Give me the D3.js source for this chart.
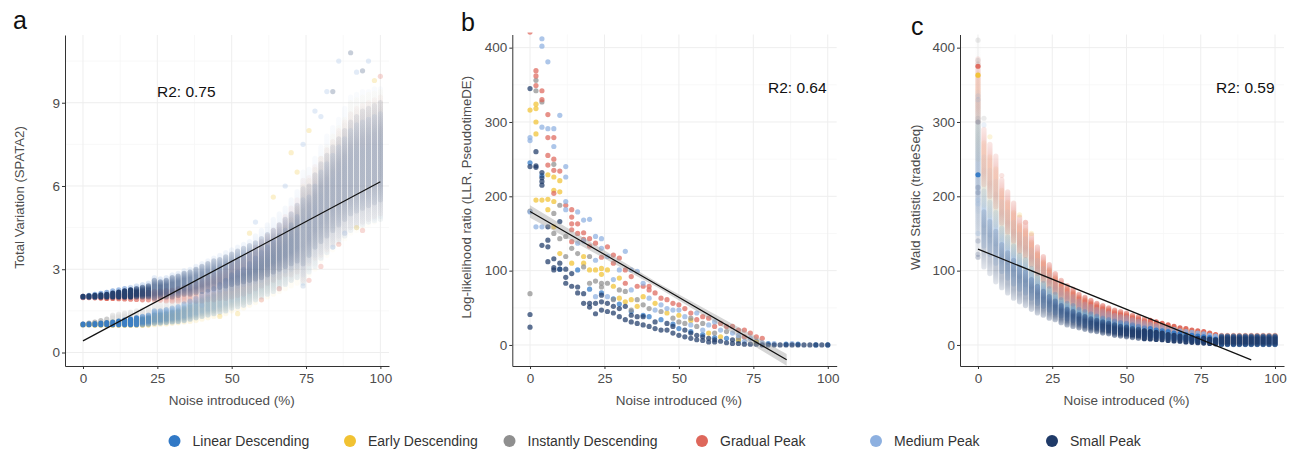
<!DOCTYPE html>
<html><head><meta charset="utf-8">
<script src="https://cdn.jsdelivr.net/npm/d3@7/dist/d3.min.js"></script>
<style>body{margin:0;background:#fff;} svg{display:block;font-family:"Liberation Sans",Arial,Helvetica,sans-serif;}</style>
</head><body><svg id="chart" width="1295" height="451"></svg>
<script>
// ---------------- DATA ----------------
const categories = ["Linear Descending","Early Descending","Instantly Descending","Gradual Peak","Medium Peak","Small Peak"];
const colors = ["#3179c6","#f1c232","#8f8f8f","#de675b","#8db0e0","#1f3a68"];
const noise = [0,2,4,6,8,10,12,14,16,18,20,22,24,26,28,30,32,34,36,38,40,42,44,46,48,50,52,54,56,58,60,62,64,66,68,70,72,74,76,78,80,82,84,86,88,90,92,94,96,98,100];
const xTicks = [0,25,50,75,100];
const xMinor = [12.5,37.5,62.5,87.5];
const aYTicks = [0,3,6,9];
const aYMinor = [1.5,4.5,7.5,10.5];
const bcYTicks = [0,100,200,300,400];
const bcYMinor = [50,150,250,350];
const r2Labels = ["R2: 0.75","R2: 0.64","R2: 0.59"];

// Panel a: Total Variation (SPATA2) — per-noise ranges of replicate values
const aLinearLo = [1.0,1.0,1.0,1.0,1.0,1.0,1.0,1.0,1.0,1.0,1.0,1.02,1.05,1.06,1.08,1.1,1.12,1.15,1.2,1.25,1.3,1.35,1.4,1.45,1.5,1.6,1.65,1.7,1.8,1.9,2.0,2.1,2.2,2.3,2.45,2.6,2.7,2.5,2.9,3.1,3.4,3.6,3.8,4.0,4.2,4.4,4.5,4.6,4.7,4.75,4.8];
const aLinearHi = [1.02,1.03,1.04,1.06,1.08,1.1,1.13,1.17,1.2,1.25,1.3,1.35,1.5,1.5,1.55,1.6,1.65,1.75,1.85,1.95,2.1,2.2,2.3,2.45,2.6,2.8,2.9,3.0,3.2,3.4,3.6,3.8,4.0,4.2,4.4,4.6,4.9,5.5,5.6,6.0,6.5,6.8,7.1,7.4,7.7,8.0,8.2,8.3,8.4,8.5,8.6];
const aEarlyLo = [1.0,1.0,0.99,0.99,0.98,0.98,0.98,0.98,0.98,0.98,0.98,0.99,1.0,1.02,1.03,1.05,1.07,1.1,1.12,1.15,1.2,1.25,1.3,1.35,1.4,1.5,1.55,1.6,1.7,1.8,1.9,2.0,2.1,2.2,2.3,2.4,2.5,2.4,2.8,3.0,3.3,3.5,3.7,3.9,4.1,4.3,4.4,4.5,4.6,4.7,4.8];
const aEarlyHi = [1.0,1.02,1.03,1.05,1.07,1.1,1.12,1.14,1.16,1.18,1.2,1.25,1.35,1.38,1.4,1.45,1.5,1.6,1.7,1.8,1.9,2.0,2.1,2.25,2.4,2.6,2.7,2.8,3.0,3.2,3.4,3.6,3.9,4.2,4.5,4.8,5.2,6.0,6.2,6.6,7.0,7.4,7.8,8.1,8.4,9.0,9.1,9.2,9.3,9.35,9.4];
const aInstantLo = [1.0,1.01,1.02,1.03,1.04,1.05,1.06,1.07,1.08,1.09,1.1,1.1,1.1,1.15,1.18,1.2,1.22,1.25,1.3,1.35,1.4,1.45,1.5,1.55,1.6,1.7,1.75,1.8,1.9,2.0,2.1,2.2,2.3,2.4,2.5,2.6,2.7,2.5,3.0,3.2,3.4,3.6,3.8,4.0,4.2,4.4,4.5,4.6,4.7,4.8,4.9];
const aInstantHi = [1.02,1.06,1.1,1.15,1.2,1.35,1.38,1.42,1.46,1.5,1.55,1.6,1.75,1.75,1.8,1.9,2.0,2.1,2.2,2.35,2.5,2.6,2.7,2.8,2.95,3.1,3.2,3.3,3.5,3.65,3.8,4.0,4.2,4.4,4.7,5.0,5.3,6.2,6.2,6.6,7.0,7.3,7.6,7.9,8.2,8.6,8.7,8.8,8.9,8.95,9.0];
const aGradualLo = [1.98,1.98,1.97,1.96,1.95,1.95,1.94,1.93,1.92,1.91,1.9,1.9,1.88,1.88,1.86,1.85,1.85,1.85,1.85,1.85,1.85,1.9,1.9,1.95,1.95,2.0,2.05,2.1,2.2,2.3,2.4,2.5,2.6,2.7,2.8,2.8,2.9,2.6,3.2,3.4,3.5,3.7,3.9,4.1,4.3,4.5,4.6,4.7,4.8,4.9,5.0];
const aGradualHi = [2.02,2.03,2.04,2.05,2.06,2.08,2.1,2.11,2.12,2.13,2.15,2.17,2.2,2.22,2.24,2.25,2.3,2.35,2.4,2.5,2.6,2.7,2.8,2.9,3.0,3.2,3.3,3.4,3.6,3.8,4.0,4.2,4.4,4.6,4.9,5.2,5.5,6.2,6.3,6.7,7.0,7.3,7.6,8.0,8.3,8.6,8.8,8.9,9.0,9.1,9.2];
const aMediumLo = [2.0,2.0,2.0,2.02,2.02,2.03,2.04,2.05,2.05,2.05,2.05,2.05,2.0,2.08,2.1,2.1,2.12,2.15,2.15,2.2,2.2,2.2,2.25,2.25,2.3,2.3,2.4,2.45,2.5,2.55,2.6,2.7,2.8,2.9,2.95,3.0,3.1,2.8,3.3,3.5,3.6,3.8,4.0,4.2,4.4,4.5,4.6,4.7,4.8,4.85,4.9];
const aMediumHi = [2.02,2.06,2.1,2.13,2.17,2.22,2.26,2.3,2.35,2.4,2.45,2.5,2.7,2.65,2.7,2.8,2.85,2.95,3.0,3.1,3.2,3.3,3.4,3.5,3.6,3.7,3.8,3.9,4.0,4.2,4.4,4.6,4.8,5.0,5.2,5.5,5.8,6.5,6.6,7.0,7.4,7.8,8.1,8.4,8.8,9.2,9.3,9.4,9.4,9.5,9.5];
const aSmallLo = [2.0,2.0,2.0,2.0,2.0,2.0,2.0,2.0,2.0,2.0,2.0,2.0,1.95,2.0,2.0,2.0,2.05,2.1,2.1,2.15,2.2,2.25,2.3,2.35,2.4,2.45,2.5,2.55,2.6,2.65,2.7,2.8,2.9,3.0,3.1,3.2,3.3,3.2,3.5,3.8,4.0,4.2,4.4,4.6,4.8,5.0,5.1,5.2,5.3,5.4,5.5];
const aSmallHi = [2.02,2.04,2.06,2.08,2.1,2.14,2.18,2.22,2.26,2.3,2.35,2.4,2.6,2.55,2.6,2.7,2.75,2.85,2.9,3.0,3.1,3.2,3.3,3.35,3.45,3.55,3.65,3.75,3.85,3.95,4.1,4.25,4.4,4.6,4.8,5.0,5.3,5.9,6.0,6.4,6.8,7.1,7.4,7.7,8.0,8.3,8.5,8.7,8.8,8.9,9.0];
// scattered single replicates of panel a: [noise, value, category index]
const aExtra = [[90,10.8,5],[96,10.5,4],[86,10.5,4],[92,10.1,4],[94,10.15,5],[100,9.95,3],[84,9.4,5],[82,9.4,4],[78,8.7,4],[80,8.5,4],[76,8.0,1],[72,6.5,1],[70,7.2,1],[68,6.0,4],[74,7.5,4],[64,5.6,1],[58,4.7,4],[56,4.3,1],[88,4.3,4],[94,4.4,3],[92,4.5,1],[86,3.9,3],[80,3.1,3],[84,3.8,4],[74,2.4,4],[76,2.6,3],[66,2.3,3],[52,1.4,1],[46,1.3,1],[40,1.7,4],[60,1.9,3],[98,9.8,1]];
const aFit = [[0,0.42],[100,6.15]];

// Panel b: Log-likelihood ratio (PseudotimeDE) — individual points [noise, LLR]
const bLinear = [[0,245],[4,228],[10,102],[16,101],[20,75],[24,70],[28,62],[30,55],[34,45],[38,40],[40,38],[44,34],[48,28],[50,22],[54,18],[58,14],[62,10],[66,9],[70,6],[76,5],[80,2],[86,1],[90,1],[96,0],[100,0]];
const bEarly = [[0,316],[2,324],[2,318],[2,300],[2,284],[2,195],[4,195],[6,229],[6,196],[6,182],[8,226],[8,208],[8,193],[8,159],[10,221],[10,206],[10,123],[14,110],[18,119],[18,110],[20,101],[22,101],[24,103],[24,95],[26,101],[28,79],[30,90],[30,63],[32,58],[34,61],[36,52],[38,65],[42,56],[46,43],[50,40],[54,33],[60,16],[64,11],[70,7],[76,4]];
const bInstant = [[0,69],[0,180],[2,356],[2,342],[4,327],[8,243],[8,177],[8,150],[10,188],[10,143],[12,146],[12,119],[14,130],[16,123],[18,105],[20,119],[20,83],[22,86],[24,83],[24,78],[26,83],[28,61],[30,74],[32,72],[34,47],[36,61],[38,54],[40,49],[44,45],[48,36],[50,31],[52,29],[54,36],[56,25],[58,29],[62,16],[66,18],[70,10]];
const bGradual = [[0,421],[2,369],[2,362],[2,349],[4,342],[4,330],[6,310],[6,279],[6,255],[6,242],[8,279],[8,250],[8,235],[8,204],[10,234],[12,188],[14,182],[14,172],[14,163],[14,155],[14,139],[16,163],[16,150],[18,151],[18,142],[20,143],[20,133],[22,137],[24,118],[26,132],[28,121],[28,110],[30,117],[32,101],[32,83],[34,92],[36,79],[38,79],[40,79],[40,74],[42,70],[44,63],[46,61],[48,56],[50,54],[52,49],[54,43],[56,34],[58,38],[60,36],[62,25],[64,29],[66,25],[68,25],[70,20],[72,20],[72,11],[74,16],[76,11],[78,9]];
const bMedium = [[0,279],[0,275],[0,179],[2,159],[4,412],[4,402],[4,293],[4,159],[6,381],[6,291],[8,291],[8,267],[10,309],[12,240],[12,226],[12,193],[12,182],[16,179],[16,137],[18,168],[18,140],[20,169],[22,146],[22,114],[22,65],[24,143],[24,130],[26,119],[26,65],[28,88],[30,101],[32,126],[34,101],[34,74],[36,99],[38,83],[40,63],[42,47],[44,54],[46,49],[48,47],[50,47],[52,38],[54,27],[56,43],[58,20],[60,27],[62,31],[64,20],[68,16],[70,13],[72,5],[74,9],[78,3],[82,2],[88,2]];
const bSmall = [[0,345],[0,240],[0,41],[0,24],[2,260],[2,241],[2,239],[4,232],[4,225],[4,220],[4,215],[4,134],[6,159],[6,141],[6,132],[6,112],[8,116],[8,104],[8,101],[10,166],[10,110],[10,102],[12,102],[12,91],[12,83],[14,96],[14,79],[16,78],[16,70],[18,69],[18,56],[20,56],[20,51],[22,56],[22,42],[24,67],[24,58],[24,47],[26,56],[26,45],[28,52],[28,43],[30,49],[30,38],[32,52],[32,34],[34,40],[34,31],[36,38],[36,29],[38,38],[38,27],[40,25],[42,31],[42,22],[44,20],[46,29],[46,20],[48,25],[48,16],[50,13],[52,20],[52,11],[54,16],[54,9],[56,13],[56,7],[58,11],[58,6],[60,9],[60,4],[62,7],[62,4],[64,5],[66,3],[68,7],[68,2],[70,2],[72,1],[74,1],[76,1],[78,0],[80,0],[82,0],[84,0],[86,0],[88,0],[90,0],[92,0],[94,0],[96,0],[98,0],[100,0]];
const bFitX = [0,43,86.2];
const bFitY = [179.5,80.2,-20];
const bFitLo = [171,77,-28];
const bFitHi = [188,83.5,-12];

// Panel c: Wald statistic (tradeSeq) — per-noise ranges of replicate values
const cLinearLo = [150,133,122,110,99,90,82,75,70,63,56,52,47,43,39,35,33,30,27,25,24,22,20,18,17,16,15,13,12,12,11,10,9,8,8,7,6,5,5,4,3,1,1,1,1,1,1,1,1,1,1];
const cLinearHi = [330,207,192,178,157,145,133,121,115,103,92,83,76,68,61,56,53,48,45,42,39,36,34,32,30,29,27,25,23,22,20,19,18,16,15,14,13,12,11,10,8,10,10,10,10,10,10,10,10,10,10];
const cEarlyLo = [250,188,174,161,142,131,121,109,103,93,83,76,68,62,56,51,48,43,40,37,35,33,31,28,27,25,24,22,20,19,18,17,15,14,13,12,11,10,9,8,7,2,2,2,2,2,2,2,2,2,2];
const cEarlyHi = [365,272,253,237,208,192,178,161,154,138,123,111,101,90,81,75,70,64,60,56,52,49,47,44,42,40,37,35,32,31,29,27,25,23,21,20,18,17,16,15,13,12,12,12,12,12,12,12,12,12,12];
const cInstantLo = [150,151,140,127,113,104,95,86,81,73,65,60,54,50,44,40,38,34,32,29,28,25,24,22,20,19,18,16,15,14,13,13,11,10,9,8,8,7,6,5,5,1,1,1,1,1,1,1,1,1,1];
const cInstantHi = [410,235,218,203,179,165,153,138,131,118,105,95,86,77,70,64,60,55,51,48,45,42,40,37,35,33,31,29,27,26,24,22,21,19,18,17,15,14,13,12,10,11,11,11,11,11,11,11,11,11,11];
const cGradualLo = [300,216,200,186,164,152,140,126,120,108,96,87,79,71,64,59,55,50,47,44,41,38,36,33,32,30,28,26,24,23,22,20,19,17,16,15,13,13,12,10,9,2,2,2,2,2,2,2,2,2,2];
const cGradualHi = [385,290,270,254,222,206,191,172,165,148,132,119,108,96,87,80,75,68,64,60,56,53,50,47,45,43,40,38,35,33,31,29,27,25,23,22,20,19,18,16,14,13,13,13,13,13,13,13,13,13,13];
const cMediumLo = [180,161,148,136,121,111,101,92,87,78,70,64,58,53,47,43,40,37,34,31,29,27,26,23,22,21,19,18,16,15,14,14,12,11,10,9,8,8,7,6,5,1.5,1.5,1.5,1.5,1.5,1.5,1.5,1.5,1.5,1.5];
const cMediumHi = [340,253,235,220,193,179,165,149,143,128,114,103,94,84,76,69,65,59,55,52,48,46,43,40,38,37,34,32,30,28,26,25,23,21,19,18,17,16,15,13,12,12,12,12,12,12,12,12,12,12,12];
const cSmallLo = [118,105,96,85,77,70,63,58,53,48,43,40,36,34,30,27,25,23,21,19,18,16,15,13,12,11,10,9,8.5,8,7.5,7,6,5.5,5,4,3.5,3,2.5,2,1.5,0.5,0.5,0.5,0.5,0.5,0.5,0.5,0.5,0.5,0.5];
const cSmallHi = [305,179,166,153,135,124,114,104,98,88,79,72,65,59,53,48,45,41,38,35,33,31,29,27,25,24,22,21,19,18,17,16,14,13,12,11,10,9,9,8,7,12,12,12,12,12,12,12,12,12,12];
// faint single replicates and the few clearly visible ones at 0 % noise
const cExtra = [[0,212,5],[0,205,5],[0,195,4],[0,190,4],[0,122,5],[0,118,5],[0,383,2],[0,378,2],[0,330,4],[0,335,4],[0,300,5],[0,410,2],[0,150,4],[0,140,5],[2,305,2],[2,296,4],[4,280,1],[16,165,3],[18,150,1],[8,228,3],[14,175,1]];
const cHighlight = [[0,375,3],[0,363,1],[0,229,0]];
const cFit = [[0,129],[92,-20]];

// ---------------- DRAWING ----------------
const svg = d3.select("#chart");
const defs = svg.append("defs");
const R = 2.6;
const drawOrder = [2, 1, 3, 4, 0, 5];
const densityOpacity = (h, w) => Math.min(0.95, (0.05 + 8 / (h + 4)) * w);

colors.forEach((c, i) => {
  const gr = defs.append("linearGradient").attr("id", "grad" + i)
    .attr("x1", 0).attr("y1", 0).attr("x2", 0).attr("y2", 1);
  [[0, 0.45], [0.3, 1], [0.75, 1], [1, 0.45]].forEach(s =>
    gr.append("stop").attr("offset", s[0]).attr("stop-color", c).attr("stop-opacity", s[1]));
});

const panels = [
  {id:"a", left:65, right:389, top:35, bottom:366, xd:[-6.05,102.9], yd:[-0.486,11.44], yTicks:aYTicks, yMinor:aYMinor,
   ytitle:"Total Variation (SPATA2)", ytx:23.5, label:{x:13,y:29,size:25},
   r2:{x:157,y:97}, r2text:r2Labels[0], weights:[1.15, 0.55, 0.45, 0.8, 0.95, 1.35],
   ranges:[[aLinearLo,aLinearHi],[aEarlyLo,aEarlyHi],[aInstantLo,aInstantHi],[aGradualLo,aGradualHi],[aMediumLo,aMediumHi],[aSmallLo,aSmallHi]],
   extra:aExtra, extraOpacity:0.25},
  {id:"b", left:512.3, right:836.7, top:34.5, bottom:366, xd:[-5.95,103.0], yd:[-28.3,417.7], yTicks:bcYTicks, yMinor:bcYMinor,
   ytitle:"Log-likelihood ratio (LLR, PseudotimeDE)", ytx:471.2, label:{x:461,y:31,size:25},
   r2:{x:768,y:93}, r2text:r2Labels[1],
   points:[bLinear,bEarly,bInstant,bGradual,bMedium,bSmall]},
  {id:"c", left:960, right:1284, top:34.5, bottom:366, xd:[-6.06,103.03], yd:[-28.3,417.7], yTicks:bcYTicks, yMinor:bcYMinor,
   ytitle:"Wald Statistic (tradeSeq)", ytx:919.5, label:{x:911,y:35,size:25},
   r2:{x:1216,y:93}, r2text:r2Labels[2], weights:[1.1, 0.9, 0.45, 1.7, 1.0, 1.45],
   ranges:[[cLinearLo,cLinearHi],[cEarlyLo,cEarlyHi],[cInstantLo,cInstantHi],[cGradualLo,cGradualHi],[cMediumLo,cMediumHi],[cSmallLo,cSmallHi]],
   extra:cExtra, extraOpacity:0.18, highlight:cHighlight}
];

panels.forEach((p) => {
  const x = d3.scaleLinear().domain(p.xd).range([p.left, p.right]);
  const y = d3.scaleLinear().domain(p.yd).range([p.bottom, p.top]);
  const g = svg.append("g");
  const clipId = "clip-" + p.id;
  defs.append("clipPath").attr("id", clipId)
    .append("rect").attr("x", p.left).attr("y", p.top - 2).attr("width", p.right - p.left).attr("height", p.bottom - p.top + 2);

  // grid
  const grid = g.append("g");
  grid.selectAll(".vmin").data(xMinor).join("line")
    .attr("x1", d => x(d)).attr("x2", d => x(d)).attr("y1", p.top).attr("y2", p.bottom)
    .attr("stroke", "#f6f6f6").attr("stroke-width", 0.8);
  grid.selectAll(".hmin").data(p.yMinor).join("line")
    .attr("y1", d => y(d)).attr("y2", d => y(d)).attr("x1", p.left).attr("x2", p.right)
    .attr("stroke", "#f6f6f6").attr("stroke-width", 0.8);
  grid.selectAll(".vmaj").data(xTicks).join("line")
    .attr("x1", d => x(d)).attr("x2", d => x(d)).attr("y1", p.top).attr("y2", p.bottom)
    .attr("stroke", "#eeeeee").attr("stroke-width", 1);
  grid.selectAll(".hmaj").data(p.yTicks).join("line")
    .attr("y1", d => y(d)).attr("y2", d => y(d)).attr("x1", p.left).attr("x2", p.right)
    .attr("stroke", "#eeeeee").attr("stroke-width", 1);

  const plot = g.append("g").attr("clip-path", `url(#${clipId})`);

  // replicate columns
  if (p.ranges) {
    drawOrder.forEach(ci => {
      const pair = p.ranges[ci];
      const rows = noise.map((n, i) => ({n, lo: pair[0][i], hi: pair[1][i]}));
      plot.append("g").selectAll("rect").data(rows).join("rect")
        .attr("x", d => x(d.n) - R).attr("width", 2 * R)
        .attr("y", d => y(d.hi) - R)
        .attr("height", d => y(d.lo) - y(d.hi) + 2 * R)
        .attr("rx", R).attr("ry", R)
        .attr("fill", d => (y(d.lo) - y(d.hi)) < 8 ? colors[ci] : `url(#grad${ci})`)
        .attr("fill-opacity", d => densityOpacity(y(d.lo) - y(d.hi), p.weights[ci]));
    });
  }
  if (p.extra) {
    plot.append("g").selectAll("circle").data(p.extra).join("circle")
      .attr("cx", d => x(d[0])).attr("cy", d => y(d[1])).attr("r", R)
      .attr("fill", d => colors[d[2]]).attr("fill-opacity", p.extraOpacity);
  }
  if (p.highlight) {
    plot.append("g").selectAll("circle").data(p.highlight).join("circle")
      .attr("cx", d => x(d[0])).attr("cy", d => y(d[1])).attr("r", R)
      .attr("fill", d => colors[d[2]]).attr("fill-opacity", 0.95);
  }
  if (p.points) {
    p.points.forEach((pts, ci) => {
      plot.append("g").selectAll("circle").data(pts).join("circle")
        .attr("cx", d => x(d[0])).attr("cy", d => y(d[1])).attr("r", R)
        .attr("fill", colors[ci]).attr("fill-opacity", 0.72);
    });
  }

  // fit
  if (p.id === "a") {
    plot.append("path").datum(aFit).attr("d", d3.line().x(d => x(d[0])).y(d => y(d[1])))
      .attr("stroke", "#111").attr("stroke-width", 1.2).attr("fill", "none");
  } else if (p.id === "b") {
    const band = bFitX.map((v, i) => ({x: v, lo: bFitLo[i], hi: bFitHi[i], m: bFitY[i]}));
    plot.append("path").datum(band)
      .attr("d", d3.area().x(d => x(d.x)).y0(d => y(d.lo)).y1(d => y(d.hi)))
      .attr("fill", "#999").attr("fill-opacity", 0.4);
    plot.append("path").datum(band).attr("d", d3.line().x(d => x(d.x)).y(d => y(d.m)))
      .attr("stroke", "#111").attr("stroke-width", 1.2).attr("fill", "none");
  } else {
    plot.append("path").datum(cFit).attr("d", d3.line().x(d => x(d[0])).y(d => y(d[1])))
      .attr("stroke", "#111").attr("stroke-width", 1.2).attr("fill", "none");
  }

  // axes
  const ax = g.append("g").attr("transform", `translate(0,${p.bottom})`)
    .call(d3.axisBottom(x).tickValues(xTicks).tickSize(3).tickSizeOuter(0).tickPadding(4).tickFormat(d3.format("d")));
  const ay = g.append("g").attr("transform", `translate(${p.left},0)`)
    .call(d3.axisLeft(y).tickValues(p.yTicks).tickSize(3).tickSizeOuter(0).tickPadding(2).tickFormat(d3.format("d")));
  [ax, ay].forEach(a => {
    a.select(".domain").attr("stroke", "#333").attr("stroke-width", 1);
    a.selectAll(".tick line").attr("stroke", "#333");
    a.selectAll(".tick text").attr("fill", "#4d4d4d").attr("font-size", 13.5)
      .attr("font-family", '"Liberation Sans",Arial,sans-serif');
  });

  // titles
  g.append("text").attr("x", (x(0) + x(100)) / 2).attr("y", 405).attr("text-anchor", "middle")
    .attr("font-size", 13.5).attr("fill", "#4d4d4d").text("Noise introduced (%)");
  g.append("text").attr("transform", `translate(${p.ytx},${(p.top + p.bottom) / 2 - 3}) rotate(-90)`)
    .attr("text-anchor", "middle").attr("font-size", 13.2).attr("fill", "#4d4d4d").text(p.ytitle);
  g.append("text").attr("x", p.label.x).attr("y", p.label.y).attr("font-size", p.label.size)
    .attr("fill", "#111").text(p.id);
  g.append("text").attr("x", p.r2.x).attr("y", p.r2.y).attr("font-size", 15.5)
    .attr("fill", "#111").text(p.r2text);
});

// legend
const legendX = [174.5, 350, 509.5, 702, 876, 1052];
const lg = svg.append("g");
categories.forEach((c, i) => {
  lg.append("circle").attr("cx", legendX[i]).attr("cy", 441).attr("r", 6).attr("fill", colors[i]);
  lg.append("text").attr("x", legendX[i] + 18).attr("y", 446).attr("font-size", 14)
    .attr("fill", "#333").text(c);
});
</script></body></html>
